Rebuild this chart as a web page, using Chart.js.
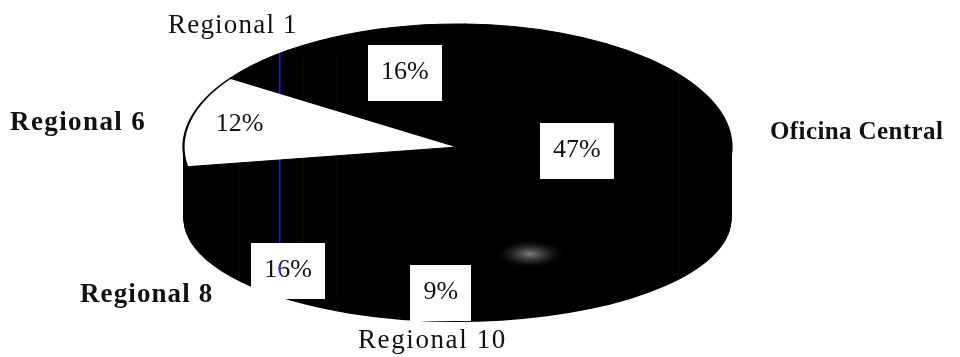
<!DOCTYPE html>
<html>
<head>
<meta charset="utf-8">
<title>Distribución por oficina</title>
<script src="https://cdn.jsdelivr.net/npm/chart.js@4.4.0/dist/chart.umd.min.js"></script>
<style>
  html, body { margin: 0; padding: 0; background: #fff; }
  #pie { display: block; }
</style>
</head>
<body>
<canvas id="pie" width="960" height="357"></canvas>
<script>
const regions = ['Regional 1', 'Oficina Central', 'Regional 10', 'Regional 8', 'Regional 6'];
const shares = [16, 47, 9, 16, 12];
const sliceColors = ['#000', '#000', '#000', '#000', '#fff'];

// top face and base of the tilted pie, canvas px
const TOP = { x: 457.5, y: 147, rx: 274, ry: 123 };
const BASE = { y: 219, ry: 103 };

// where each percentage sits: shift from the slice middle (deg) and radius fraction
const pctPlace = [
  { turn: 10, r: 0.65 },
  { turn: 6, r: 0.436 },
  { turn: -4, r: 1.17 },
  { turn: -20, r: 1.166 },
  { turn: 1.6, r: 0.82 }
];

// slice names around the pie
const nameStyle = [
  { x: 168, y: 33, bold: false, size: 27, ls: 1.2 },
  { x: 770, y: 139, bold: true, size: 25, ls: 0.4 },
  { x: 358, y: 348, bold: false, size: 27, ls: 1.6 },
  { x: 80, y: 302, bold: true, size: 27, ls: 1.1 },
  { x: 10, y: 130, bold: true, size: 27, ls: 1.4 }
];

function squash(ctx, arc, cy, ry) {
  ctx.translate(TOP.x, cy);
  ctx.scale(TOP.rx / arc.outerRadius, ry / arc.outerRadius);
  ctx.translate(-arc.x, -arc.y);
}

const pie3d = {
  id: 'pie3d',
  beforeDraw(chart) {
    const ctx = chart.ctx;
    ctx.save();
    ctx.fillStyle = '#fff';
    ctx.fillRect(0, 0, chart.width, chart.height);
    ctx.restore();
  },
  beforeDatasetsDraw(chart) {
    const ctx = chart.ctx;
    const arcs = chart.getDatasetMeta(0).data;
    // side wall: stack the slices from the base up to the top face
    const steps = Math.round(BASE.y - TOP.y);
    for (let k = steps; k > 0; k--) {
      const t = k / steps;
      const cy = TOP.y + (BASE.y - TOP.y) * t;
      const ry = TOP.ry + (BASE.ry - TOP.ry) * t;
      arcs.forEach(arc => {
        ctx.save();
        squash(ctx, arc, cy, ry);
        ctx.beginPath();
        ctx.moveTo(arc.x, arc.y);
        ctx.arc(arc.x, arc.y, arc.outerRadius, arc.startAngle, arc.endAngle);
        ctx.closePath();
        ctx.fillStyle = '#000';
        ctx.fill();
        ctx.restore();
      });
    }
    ctx.save();
    squash(ctx, arcs[0], TOP.y, TOP.ry);
  },
  afterDatasetsDraw(chart) {
    chart.ctx.restore();
  },
  afterDraw(chart) {
    const ctx = chart.ctx;
    const arcs = chart.getDatasetMeta(0).data;
    const values = chart.data.datasets[0].data;

    // percentages
    ctx.save();
    ctx.font = '26px "Liberation Serif", "Times New Roman", serif';
    ctx.textAlign = 'center';
    ctx.textBaseline = 'alphabetic';
    arcs.forEach((arc, i) => {
      const p = pctPlace[i];
      const a = (arc.startAngle + arc.endAngle) / 2 + p.turn * Math.PI / 180;
      const x = TOP.x + Math.cos(a) * p.r * TOP.rx;
      const y = TOP.y + Math.sin(a) * p.r * TOP.ry;
      const txt = values[i] + '%';
      if (sliceColors[i] !== '#fff') {
        const w = ctx.measureText(txt).width + 26;
        ctx.fillStyle = '#fff';
        ctx.fillRect(Math.round(x - w / 2), Math.round(y - 26), Math.round(w), 56);
      }
      ctx.fillStyle = '#111';
      ctx.fillText(txt, x, y + 8);
    });
    ctx.restore();

    // slice names
    ctx.save();
    ctx.textAlign = 'left';
    ctx.textBaseline = 'alphabetic';
    ctx.fillStyle = '#111';
    chart.data.labels.forEach((name, i) => {
      const s = nameStyle[i];
      ctx.font = (s.bold ? 'bold ' : '') + s.size + 'px "Liberation Serif", "Times New Roman", serif';
      ctx.letterSpacing = s.ls + 'px';
      ctx.fillText(name, s.x, s.y);
    });
    ctx.restore();

    // scanner streaks and the grey speck on the dark face
    ctx.save();
    ctx.globalCompositeOperation = 'lighter';
    ctx.fillStyle = 'rgb(30,30,215)';
    ctx.fillRect(279, 45, 1.5, 255);
    ctx.fillStyle = 'rgb(0,22,0)';
    [238, 302, 337, 678].forEach(x => ctx.fillRect(x, 55, 1, 240));
    ctx.translate(530, 254);
    ctx.scale(2.4, 1);
    const g = ctx.createRadialGradient(0, 0, 0, 0, 0, 15);
    g.addColorStop(0, 'rgba(160,160,160,0.8)');
    g.addColorStop(0.45, 'rgba(100,100,100,0.45)');
    g.addColorStop(1, 'rgba(0,0,0,0)');
    ctx.fillStyle = g;
    ctx.beginPath();
    ctx.arc(0, 0, 15, 0, Math.PI * 2);
    ctx.fill();
    ctx.restore();
  }
};

new Chart(document.getElementById('pie'), {
  type: 'pie',
  data: {
    labels: regions,
    datasets: [{
      data: shares,
      backgroundColor: sliceColors,
      borderColor: '#000',
      borderWidth: 1,
      clip: false
    }]
  },
  options: {
    responsive: false,
    animation: false,
    rotation: 304,
    layout: { padding: { top: 24, bottom: 87, left: 334, right: 380 } },
    plugins: {
      legend: { display: false },
      tooltip: { enabled: false }
    }
  },
  plugins: [pie3d]
});
</script>
</body>
</html>
